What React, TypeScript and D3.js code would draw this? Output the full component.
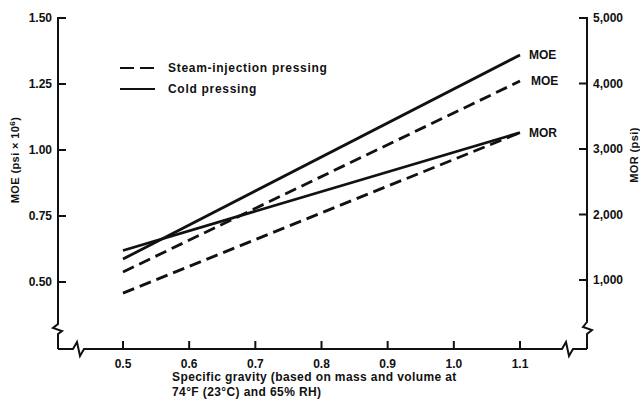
import React from "react";
import * as d3 from "d3";

// Data
const gravity = [0.5, 1.1];
const coldMOE = [0.587, 1.36];
const steamMOE = [0.538, 1.261];
const coldMOR = [1450, 3250];
const steamMOR = [800, 3250];

const xTicks = [0.5, 0.6, 0.7, 0.8, 0.9, 1.0, 1.1];
const moeTicks = [0.5, 0.75, 1.0, 1.25, 1.5];
const morTicks = [1000, 2000, 3000, 4000, 5000];

const FONT = "'Liberation Sans', Arial, Helvetica, sans-serif";

export default function App() {
  const W = 640, H = 401;
  const axisL = 58, axisR = 587, axisB = 349;
  const x = d3.scaleLinear().domain([0.5, 1.1]).range([123, 520]);
  const yL = d3.scaleLinear().domain([0.5, 1.5]).range([282, 18]);
  const yR = d3.scaleLinear().domain([1000, 5000]).range([280, 18]);

  const lineL = d3.line<number>().x((_, i) => x(gravity[i])).y((d) => yL(d));
  const lineR = d3.line<number>().x((_, i) => x(gravity[i])).y((d) => yR(d));

  const fmtL = d3.format(".2f");
  const fmtR = d3.format(",");
  const fmtX = d3.format(".1f");

  const dash = "12,6";
  const lw = 2.8;
  const ink = "#111";

  // axis paths with break symbols
  const leftAxis = `M${axisL + 8},${yL(1.5)} L${axisL},${yL(1.5)} L${axisL},324 L${axisL - 5},328 L${axisL + 4},331 L${axisL},334 L${axisL},${axisB}`;
  const bottomAxis = `M${axisL},${axisB} L73,${axisB} L77,342 L80,356 L84,${axisB} L562,${axisB} L566,342 L569,356 L573,${axisB} L${axisR},${axisB}`;
  const rightAxis = `M${axisR - 8},${yR(5000)} L${axisR},${yR(5000)} L${axisR},322 L${axisR - 4},327 L${axisR + 5},330 L${axisR},334 L${axisR},${axisB}`;

  return (
    <svg
      width={W}
      height={H}
      style={{ position: "absolute", left: 0, top: 0, background: "#fff" }}
      fontFamily={FONT}
      fontWeight="bold"
    >
      <rect width={W} height={H} fill="#fff" />
      <g fill="none" stroke={ink} strokeWidth={2} strokeLinejoin="miter">
        <path d={leftAxis} />
        <path d={bottomAxis} />
        <path d={rightAxis} />
      </g>

      {/* left ticks */}
      {moeTicks.map((t) => (
        <g key={"l" + t}>
          <line x1={axisL} x2={axisL + 8} y1={yL(t)} y2={yL(t)} stroke={ink} strokeWidth={2} />
          <text x={axisL - 6} y={yL(t)} dy="0.36em" textAnchor="end" fontSize={12} fill={ink}>
            {fmtL(t)}
          </text>
        </g>
      ))}

      {/* right ticks */}
      {morTicks.map((t) => (
        <g key={"r" + t}>
          <line x1={axisR - 8} x2={axisR} y1={yR(t)} y2={yR(t)} stroke={ink} strokeWidth={2} />
          <text x={axisR + 6} y={yR(t)} dy="0.36em" textAnchor="start" fontSize={12} fill={ink}>
            {fmtR(t)}
          </text>
        </g>
      ))}

      {/* bottom ticks */}
      {xTicks.map((t) => (
        <g key={"x" + t}>
          <line x1={x(t)} x2={x(t)} y1={axisB} y2={axisB - 8} stroke={ink} strokeWidth={2} />
          <text x={x(t)} y={364} dy="0.36em" textAnchor="middle" fontSize={12} fill={ink}>
            {fmtX(t)}
          </text>
        </g>
      ))}

      {/* axis titles */}
      <text
        transform={`translate(15,160) rotate(-90)`}
        textAnchor="middle"
        dy="0.36em"
        fontSize={11}
        letterSpacing={0.4}
        fill={ink}
      >
        MOE (psi × 10<tspan dy="-4" fontSize={8}>6</tspan><tspan dy="4">)</tspan>
      </text>
      <text
        transform={`translate(634,155) rotate(-90)`}
        textAnchor="middle"
        dy="0.36em"
        fontSize={11}
        letterSpacing={0.4}
        fill={ink}
      >
        MOR (psi)
      </text>
      <text x={172} y={377} dy="0.36em" fontSize={12} letterSpacing={0.4} fill={ink}>
        Specific gravity (based on mass and volume at
      </text>
      <text x={172} y={392} dy="0.36em" fontSize={12} letterSpacing={0.4} fill={ink}>
        74°F (23°C) and 65% RH)
      </text>

      {/* data lines */}
      <g fill="none" stroke={ink} strokeWidth={lw}>
        <path d={lineL(coldMOE) || ""} />
        <path d={lineL(steamMOE) || ""} strokeDasharray={dash} />
        <path d={lineR(coldMOR) || ""} />
        <path d={lineR(steamMOR) || ""} strokeDasharray={dash} />
      </g>

      {/* end labels */}
      <text x={x(1.1) + 9} y={yL(coldMOE[1])} dy="0.36em" fontSize={12} fill={ink}>MOE</text>
      <text x={x(1.1) + 11} y={yL(steamMOE[1])} dy="0.36em" fontSize={12} fill={ink}>MOE</text>
      <text x={x(1.1) + 9} y={yR(coldMOR[1])} dy="0.36em" fontSize={12} fill={ink}>MOR</text>

      {/* legend */}
      <line x1={120} x2={155} y1={68} y2={68} stroke={ink} strokeWidth={2} strokeDasharray="14,6" />
      <text x={168} y={68} dy="0.36em" fontSize={12} letterSpacing={0.7} fill={ink}>Steam-injection pressing</text>
      <line x1={120} x2={155} y1={89} y2={89} stroke={ink} strokeWidth={2} />
      <text x={168} y={89} dy="0.36em" fontSize={12} letterSpacing={0.7} fill={ink}>Cold pressing</text>
    </svg>
  );
}
